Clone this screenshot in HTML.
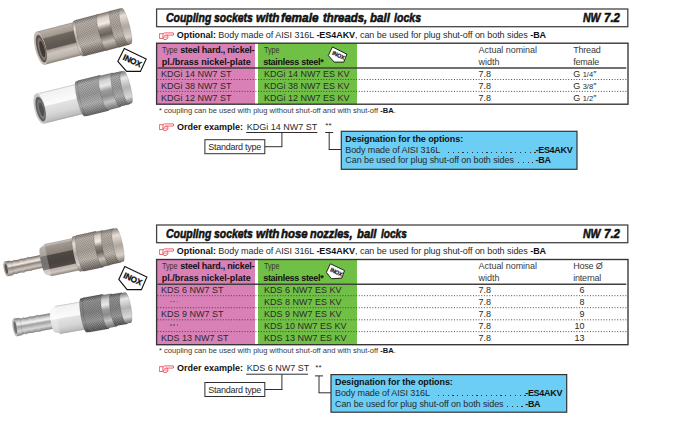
<!DOCTYPE html>
<html><head><meta charset="utf-8"><style>
html,body{margin:0;padding:0;background:#fff;}
body{width:677px;height:434px;position:relative;overflow:hidden;font-family:"Liberation Sans",sans-serif;color:#2a2a2a;}
.a{position:absolute;}
.t{position:absolute;white-space:nowrap;}
.t b{color:#111;}
</style></head><body>
<svg class="a" style="left:0;top:0" width="677" height="434" viewBox="0 0 677 434"><defs><pattern id="knurl" width="1.7" height="1.7" patternUnits="userSpaceOnUse" patternTransform="rotate(45)">
<rect x="0" y="0" width="0.8" height="0.8" fill="#000" opacity="0.2"/><rect x="0.85" y="0.85" width="0.8" height="0.8" fill="#fff" opacity="0.22"/></pattern>
<linearGradient id="hexA" x1="0" y1="0" x2="0" y2="1"><stop offset="0" stop-color="#9a928a"/><stop offset="0.04" stop-color="#b8b0a8"/><stop offset="0.22" stop-color="#a0988f"/><stop offset="0.26" stop-color="#6e665f"/><stop offset="0.45" stop-color="#625b55"/><stop offset="0.58" stop-color="#5c5550"/><stop offset="0.62" stop-color="#a8a098"/><stop offset="0.72" stop-color="#cec6be"/><stop offset="0.9" stop-color="#bab2aa"/><stop offset="1" stop-color="#8a8279"/></linearGradient>
<linearGradient id="hexC" x1="0" y1="0" x2="0" y2="1"><stop offset="0" stop-color="#b0a8a0"/><stop offset="0.04" stop-color="#c4bcb4"/><stop offset="0.1" stop-color="#a09890"/><stop offset="0.34" stop-color="#8c847c"/><stop offset="0.37" stop-color="#4e4844"/><stop offset="0.6" stop-color="#48423e"/><stop offset="0.76" stop-color="#514a46"/><stop offset="0.79" stop-color="#b8b0a8"/><stop offset="0.9" stop-color="#cfc7bf"/><stop offset="1" stop-color="#8a827a"/></linearGradient>
<linearGradient id="knA" x1="0" y1="0" x2="0" y2="1"><stop offset="0" stop-color="#7a726b"/><stop offset="0.12" stop-color="#b0a8a0"/><stop offset="0.45" stop-color="#a09890"/><stop offset="0.7" stop-color="#b8b0a8"/><stop offset="0.85" stop-color="#8a827a"/><stop offset="1" stop-color="#625a54"/></linearGradient>
<linearGradient id="ringA" x1="0" y1="0" x2="0" y2="1"><stop offset="0" stop-color="#7a726b"/><stop offset="0.12" stop-color="#d8d0c8"/><stop offset="0.28" stop-color="#f4ece4"/><stop offset="0.42" stop-color="#8a827b"/><stop offset="0.58" stop-color="#6a625c"/><stop offset="0.78" stop-color="#c8c0b8"/><stop offset="1" stop-color="#6a625c"/></linearGradient>
<linearGradient id="lipA" x1="0" y1="0" x2="0" y2="1"><stop offset="0" stop-color="#8a827b"/><stop offset="0.2" stop-color="#e8e0d8"/><stop offset="0.5" stop-color="#b0a8a0"/><stop offset="0.8" stop-color="#d8d0c8"/><stop offset="1" stop-color="#7a726b"/></linearGradient>
<linearGradient id="tubeA" x1="0" y1="0" x2="0" y2="1"><stop offset="0" stop-color="#6a625c"/><stop offset="0.2" stop-color="#c8c0b8"/><stop offset="0.35" stop-color="#f4ece4"/><stop offset="0.5" stop-color="#8a827b"/><stop offset="0.75" stop-color="#d0c8c0"/><stop offset="1" stop-color="#7a726b"/></linearGradient>
<linearGradient id="hexB" x1="0" y1="0" x2="0" y2="1"><stop offset="0" stop-color="#bdbdbd"/><stop offset="0.05" stop-color="#f2f2f2"/><stop offset="0.44" stop-color="#fbfbfb"/><stop offset="0.48" stop-color="#e2e2e2"/><stop offset="0.75" stop-color="#d6d6d6"/><stop offset="0.95" stop-color="#bdbdbd"/><stop offset="1" stop-color="#a0a0a0"/></linearGradient>
<linearGradient id="knB" x1="0" y1="0" x2="0" y2="1"><stop offset="0" stop-color="#6a6a6a"/><stop offset="0.12" stop-color="#a4a4a4"/><stop offset="0.45" stop-color="#929292"/><stop offset="0.7" stop-color="#aaaaaa"/><stop offset="0.85" stop-color="#888888"/><stop offset="1" stop-color="#5e5e5e"/></linearGradient>
<linearGradient id="knD" x1="0" y1="0" x2="0" y2="1"><stop offset="0" stop-color="#505050"/><stop offset="0.12" stop-color="#8a8a8a"/><stop offset="0.45" stop-color="#7a7a7a"/><stop offset="0.7" stop-color="#929292"/><stop offset="0.85" stop-color="#707070"/><stop offset="1" stop-color="#4a4a4a"/></linearGradient>
<linearGradient id="ringB" x1="0" y1="0" x2="0" y2="1"><stop offset="0" stop-color="#7a7a7a"/><stop offset="0.15" stop-color="#d0d0d0"/><stop offset="0.3" stop-color="#e8e8e8"/><stop offset="0.45" stop-color="#9a9a9a"/><stop offset="0.6" stop-color="#8c8c8c"/><stop offset="0.78" stop-color="#c4c4c4"/><stop offset="1" stop-color="#707070"/></linearGradient>
<linearGradient id="lipB" x1="0" y1="0" x2="0" y2="1"><stop offset="0" stop-color="#7a7a7a"/><stop offset="0.2" stop-color="#e8e8e8"/><stop offset="0.5" stop-color="#b4b4b4"/><stop offset="0.8" stop-color="#d8d8d8"/><stop offset="1" stop-color="#707070"/></linearGradient>
<linearGradient id="tubeB" x1="0" y1="0" x2="0" y2="1"><stop offset="0" stop-color="#7a7a7a"/><stop offset="0.2" stop-color="#cfcfcf"/><stop offset="0.35" stop-color="#f4f4f4"/><stop offset="0.5" stop-color="#a0a0a0"/><stop offset="0.75" stop-color="#d8d8d8"/><stop offset="1" stop-color="#808080"/></linearGradient></defs>
<g transform="translate(40.6 48.3) rotate(-14.5)">
<path d="M0 -17 L40 -17 L40 17 L0 17 Z" fill="url(#hexA)"/>
<ellipse cx="0" cy="0" rx="5.5" ry="17" fill="#c4bcb4"/>
<ellipse cx="0.6" cy="0.5" rx="4.4" ry="14.2" fill="#5c544e"/>
<ellipse cx="1" cy="1" rx="3.2" ry="11.5" fill="#7e766f"/>
<ellipse cx="1.4" cy="1" rx="2.2" ry="8.5" fill="#3e3834"/>
<path d="M39 -18.3 L42 -18.3 A3 18.3 0 0 1 42 18.3 L39 18.3 A3 18.3 0 0 1 39 -18.3 Z" fill="url(#lipA)" stroke="#000" stroke-opacity="0.18" stroke-width="0.6"/>
<path d="M41.5 -18.5 L64 -18.5 A3 18.5 0 0 1 64 18.5 L41.5 18.5 A3 18.5 0 0 1 41.5 -18.5 Z" fill="url(#knA)" stroke="#000" stroke-opacity="0.18" stroke-width="0.6"/><path d="M41.5 -18.5 L64 -18.5 A3 18.5 0 0 1 64 18.5 L41.5 18.5 A3 18.5 0 0 1 41.5 -18.5 Z" fill="url(#knurl)"/>
<path d="M63.5 -18.6 L77 -18.6 A3 18.6 0 0 1 77 18.6 L63.5 18.6 A3 18.6 0 0 1 63.5 -18.6 Z" fill="url(#ringA)" stroke="#000" stroke-opacity="0.18" stroke-width="0.6"/>
<path d="M76.5 -18.7 L87 -18.7 A3 18.7 0 0 1 87 18.7 L76.5 18.7 A3 18.7 0 0 1 76.5 -18.7 Z" fill="url(#knA)" stroke="#000" stroke-opacity="0.18" stroke-width="0.6"/><path d="M76.5 -18.7 L87 -18.7 A3 18.7 0 0 1 87 18.7 L76.5 18.7 A3 18.7 0 0 1 76.5 -18.7 Z" fill="url(#knurl)"/>
<path d="M86.5 -18.3 L88.8 -18.3 A3 18.3 0 0 1 88.8 18.3 L86.5 18.3 A3 18.3 0 0 1 86.5 -18.3 Z" fill="url(#lipA)" stroke="#000" stroke-opacity="0.18" stroke-width="0.6"/>
</g>
<g transform="translate(39.9 108.7) rotate(-13.8)">
<path d="M0 -15.5 L43 -15.5 L43 15.5 L0 15.5 Z" fill="url(#hexB)"/>
<ellipse cx="0" cy="0" rx="5.5" ry="15.5" fill="#c8c8c8"/>
<ellipse cx="0.6" cy="0.5" rx="4.4" ry="12.7" fill="#5e5e5e"/>
<ellipse cx="1" cy="1" rx="3.2" ry="10.0" fill="#7a7a7a"/>
<ellipse cx="1.4" cy="1" rx="2.2" ry="7.0" fill="#505050"/>
<path d="M41.5 -17.9 L44.5 -17.9 A3 17.9 0 0 1 44.5 17.9 L41.5 17.9 A3 17.9 0 0 1 41.5 -17.9 Z" fill="url(#knB)" stroke="#000" stroke-opacity="0.18" stroke-width="0.6"/>
<path d="M44 -18.2 L66 -18.2 A3 18.2 0 0 1 66 18.2 L44 18.2 A3 18.2 0 0 1 44 -18.2 Z" fill="url(#knB)" stroke="#000" stroke-opacity="0.18" stroke-width="0.6"/><path d="M44 -18.2 L66 -18.2 A3 18.2 0 0 1 66 18.2 L44 18.2 A3 18.2 0 0 1 44 -18.2 Z" fill="url(#knurl)"/>
<path d="M65.5 -17.6 L78.5 -17.6 A3 17.6 0 0 1 78.5 17.6 L65.5 17.6 A3 17.6 0 0 1 65.5 -17.6 Z" fill="url(#ringB)" stroke="#000" stroke-opacity="0.18" stroke-width="0.6"/>
<path d="M78 -17.0 L88 -17.0 A3 17.0 0 0 1 88 17.0 L78 17.0 A3 17.0 0 0 1 78 -17.0 Z" fill="url(#knB)" stroke="#000" stroke-opacity="0.18" stroke-width="0.6"/><path d="M78 -17.0 L88 -17.0 A3 17.0 0 0 1 88 17.0 L78 17.0 A3 17.0 0 0 1 78 -17.0 Z" fill="url(#knurl)"/>
<path d="M87.5 -16.5 L90.3 -16.5 A3 16.5 0 0 1 90.3 16.5 L87.5 16.5 A3 16.5 0 0 1 87.5 -16.5 Z" fill="url(#lipB)" stroke="#000" stroke-opacity="0.18" stroke-width="0.6"/>
</g>
<g transform="translate(43.9 261) rotate(-12.0)">
<path d="M-38.7 -6.6 L3 -6.6 L3 6.6 L-38.7 6.6 A2 6.6 0 0 1 -38.7 -6.6 Z" fill="url(#tubeA)"/>
<path d="M-30.700000000000003 -6.6 l2.5 -0.7 l0 14.6 l-2.5 -0.7 Z" fill="url(#tubeA)"/>
<path d="M-23.700000000000003 -6.6 l2.5 -0.7 l0 14.6 l-2.5 -0.7 Z" fill="url(#tubeA)"/>
<path d="M-16.700000000000003 -6.6 l2.5 -0.7 l0 14.6 l-2.5 -0.7 Z" fill="url(#tubeA)"/>
<path d="M-38.7 -7.3999999999999995 L-33.7 -7.3999999999999995 L-32.2 -6.6 L-32.2 6.6 L-33.7 7.3999999999999995 L-38.7 7.3999999999999995 Z" fill="url(#tubeA)" stroke="#000" stroke-opacity="0.15" stroke-width="0.5"/>
<ellipse cx="-38.7" cy="0" rx="2.2" ry="7.3999999999999995" fill="#b0a8a0"/>
<ellipse cx="-38.400000000000006" cy="0" rx="1.3" ry="5.0" fill="#5a524c"/>
<path d="M-1 -13.5 L5 -16.5 L5 16.5 L-1 13.5 A2 13.5 0 0 1 -1 -13.5 Z" fill="url(#hexC)"/>
<path d="M-1 -13.5 L5 -16.5 L5 16.5 L-1 13.5 A2 13.5 0 0 1 -1 -13.5 Z" fill="#fff" opacity="0.25"/>
<path d="M4 -16.5 L34.5 -16.5 L34.5 16.5 L4 16.5 Z" fill="url(#hexC)"/>
<path d="M33.5 -17.8 L37.5 -17.8 A3 17.8 0 0 1 37.5 17.8 L33.5 17.8 A3 17.8 0 0 1 33.5 -17.8 Z" fill="url(#lipA)" stroke="#000" stroke-opacity="0.18" stroke-width="0.6"/>
<path d="M37.0 -18.3 L56.5 -18.3 A3 18.3 0 0 1 56.5 18.3 L37.0 18.3 A3 18.3 0 0 1 37.0 -18.3 Z" fill="url(#knA)" stroke="#000" stroke-opacity="0.18" stroke-width="0.6"/><path d="M37.0 -18.3 L56.5 -18.3 A3 18.3 0 0 1 56.5 18.3 L37.0 18.3 A3 18.3 0 0 1 37.0 -18.3 Z" fill="url(#knurl)"/>
<path d="M56.0 -17.8 L63.5 -17.8 A3 17.8 0 0 1 63.5 17.8 L56.0 17.8 A3 17.8 0 0 1 56.0 -17.8 Z" fill="url(#ringA)" stroke="#000" stroke-opacity="0.18" stroke-width="0.6"/>
<path d="M63.0 -17.4 L74.5 -17.4 A3 17.4 0 0 1 74.5 17.4 L63.0 17.4 A3 17.4 0 0 1 63.0 -17.4 Z" fill="url(#knA)" stroke="#000" stroke-opacity="0.18" stroke-width="0.6"/><path d="M63.0 -17.4 L74.5 -17.4 A3 17.4 0 0 1 74.5 17.4 L63.0 17.4 A3 17.4 0 0 1 63.0 -17.4 Z" fill="url(#knurl)"/>
<path d="M74.0 -17.0 L77.5 -17.0 A3 17.0 0 0 1 77.5 17.0 L74.0 17.0 A3 17.0 0 0 1 74.0 -17.0 Z" fill="url(#lipA)" stroke="#000" stroke-opacity="0.18" stroke-width="0.6"/>
</g>
<g transform="translate(53.7 320.7) rotate(-10.0)">
<path d="M-39.3 -8 L3 -8 L3 8 L-39.3 8 A2 8 0 0 1 -39.3 -8 Z" fill="url(#tubeB)"/>
<path d="M-31.299999999999997 -8 l2.5 -0.7 l0 17.4 l-2.5 -0.7 Z" fill="url(#tubeB)"/>
<path d="M-24.299999999999997 -8 l2.5 -0.7 l0 17.4 l-2.5 -0.7 Z" fill="url(#tubeB)"/>
<path d="M-17.299999999999997 -8 l2.5 -0.7 l0 17.4 l-2.5 -0.7 Z" fill="url(#tubeB)"/>
<path d="M-39.3 -8.8 L-34.3 -8.8 L-32.8 -8 L-32.8 8 L-34.3 8.8 L-39.3 8.8 Z" fill="url(#tubeB)" stroke="#000" stroke-opacity="0.15" stroke-width="0.5"/>
<ellipse cx="-39.3" cy="0" rx="2.2" ry="8.8" fill="#b8b8b8"/>
<ellipse cx="-39.0" cy="0" rx="1.3" ry="6.4" fill="#6a6a6a"/>
<path d="M-1 -11.2 L5 -14.2 L5 14.2 L-1 11.2 A2 11.2 0 0 1 -1 -11.2 Z" fill="url(#hexB)"/>
<path d="M-1 -11.2 L5 -14.2 L5 14.2 L-1 11.2 A2 11.2 0 0 1 -1 -11.2 Z" fill="#fff" opacity="0.25"/>
<path d="M4 -14.2 L31.5 -14.2 L31.5 14.2 L4 14.2 Z" fill="url(#hexB)"/>
<path d="M30.5 -17.2 L34.0 -17.2 A3 17.2 0 0 1 34.0 17.2 L30.5 17.2 A3 17.2 0 0 1 30.5 -17.2 Z" fill="url(#knD)" stroke="#000" stroke-opacity="0.18" stroke-width="0.6"/>
<path d="M33.5 -17.5 L52.5 -17.5 A3 17.5 0 0 1 52.5 17.5 L33.5 17.5 A3 17.5 0 0 1 33.5 -17.5 Z" fill="url(#knD)" stroke="#000" stroke-opacity="0.18" stroke-width="0.6"/><path d="M33.5 -17.5 L52.5 -17.5 A3 17.5 0 0 1 52.5 17.5 L33.5 17.5 A3 17.5 0 0 1 33.5 -17.5 Z" fill="url(#knurl)"/>
<path d="M52.0 -16.599999999999998 L61.0 -16.599999999999998 A3 16.599999999999998 0 0 1 61.0 16.599999999999998 L52.0 16.599999999999998 A3 16.599999999999998 0 0 1 52.0 -16.599999999999998 Z" fill="url(#ringB)" stroke="#000" stroke-opacity="0.18" stroke-width="0.6"/>
<path d="M60.5 -15.899999999999999 L71.5 -15.899999999999999 A3 15.899999999999999 0 0 1 71.5 15.899999999999999 L60.5 15.899999999999999 A3 15.899999999999999 0 0 1 60.5 -15.899999999999999 Z" fill="url(#knD)" stroke="#000" stroke-opacity="0.18" stroke-width="0.6"/><path d="M60.5 -15.899999999999999 L71.5 -15.899999999999999 A3 15.899999999999999 0 0 1 71.5 15.899999999999999 L60.5 15.899999999999999 A3 15.899999999999999 0 0 1 60.5 -15.899999999999999 Z" fill="url(#knurl)"/>
<path d="M71.0 -15.399999999999999 L75.5 -15.399999999999999 A3 15.399999999999999 0 0 1 75.5 15.399999999999999 L71.0 15.399999999999999 A3 15.399999999999999 0 0 1 71.0 -15.399999999999999 Z" fill="url(#lipB)" stroke="#000" stroke-opacity="0.18" stroke-width="0.6"/>
</g>
</svg>
<div class="a" style="left:157px;top:43.2px;width:98px;height:61.0px;background:#D980B7"></div>
<div class="a" style="left:258.2px;top:43.2px;width:98.8px;height:61.0px;background:#71C046"></div>
<div class="a" style="left:157px;top:259.5px;width:98px;height:85.19999999999999px;background:#D980B7"></div>
<div class="a" style="left:258.2px;top:259.5px;width:98.8px;height:85.19999999999999px;background:#71C046"></div>
<svg class="a" style="left:0;top:0" width="677" height="434" viewBox="0 0 677 434"><rect x="156.6" y="9.0" width="471.19999999999993" height="17.7" fill="none" stroke="#444" stroke-width="1.3"/>
<line x1="157.5" y1="79.5" x2="627.5" y2="79.5" stroke="#3a3a3a" stroke-width="1" stroke-dasharray="1 1.7200000000000002" opacity="0.9"/>
<line x1="157.5" y1="91.4" x2="627.5" y2="91.4" stroke="#3a3a3a" stroke-width="1" stroke-dasharray="1 1.7200000000000002" opacity="0.9"/>
<line x1="157.5" y1="67.9" x2="626.2" y2="67.9" stroke="#404040" stroke-width="1.5"/>
<rect x="156.6" y="43.2" width="471.4" height="61.0" fill="none" stroke="#333" stroke-width="1.35"/>
<line x1="246.2" y1="132.5" x2="317.4" y2="132.5" stroke="#2e2e2e" stroke-width="1.0"/>
<line x1="281.9" y1="132.5" x2="281.9" y2="146.7" stroke="#2e2e2e" stroke-width="1.0"/>
<line x1="265" y1="146.7" x2="282.4" y2="146.7" stroke="#2e2e2e" stroke-width="1.0"/>
<rect x="204.9" y="139.7" width="59.900000000000006" height="14.0" fill="#fff" stroke="#2e2e2e" stroke-width="1.0"/>
<line x1="325.2" y1="132.5" x2="333.2" y2="132.5" stroke="#2e2e2e" stroke-width="1.0"/>
<line x1="329.2" y1="132.5" x2="329.2" y2="149.5" stroke="#2e2e2e" stroke-width="1.0"/>
<line x1="328.7" y1="149.5" x2="341.3" y2="149.5" stroke="#2e2e2e" stroke-width="1.0"/>
<rect x="341.3" y="131.3" width="235.7" height="38.0" fill="#6DCEF5" stroke="#333" stroke-width="1.2"/>
<rect x="156.6" y="225.0" width="471.19999999999993" height="17.69999999999999" fill="none" stroke="#444" stroke-width="1.3"/>
<line x1="157.5" y1="295.7" x2="627.5" y2="295.7" stroke="#3a3a3a" stroke-width="1" stroke-dasharray="1 1.7200000000000002" opacity="0.9"/>
<line x1="157.5" y1="307.7" x2="627.5" y2="307.7" stroke="#3a3a3a" stroke-width="1" stroke-dasharray="1 1.7200000000000002" opacity="0.9"/>
<line x1="157.5" y1="319.8" x2="627.5" y2="319.8" stroke="#3a3a3a" stroke-width="1" stroke-dasharray="1 1.7200000000000002" opacity="0.9"/>
<line x1="157.5" y1="331.6" x2="627.5" y2="331.6" stroke="#3a3a3a" stroke-width="1" stroke-dasharray="1 1.7200000000000002" opacity="0.9"/>
<line x1="157.5" y1="284.2" x2="626.2" y2="284.2" stroke="#404040" stroke-width="1.5"/>
<rect x="156.6" y="259.5" width="471.4" height="85.19999999999999" fill="none" stroke="#333" stroke-width="1.35"/>
<line x1="246.2" y1="374.2" x2="308" y2="374.2" stroke="#2e2e2e" stroke-width="1.0"/>
<line x1="281.9" y1="374.2" x2="281.9" y2="389.5" stroke="#2e2e2e" stroke-width="1.0"/>
<line x1="265" y1="389.5" x2="282.4" y2="389.5" stroke="#2e2e2e" stroke-width="1.0"/>
<rect x="204.9" y="382.5" width="59.900000000000006" height="14.0" fill="#fff" stroke="#2e2e2e" stroke-width="1.0"/>
<line x1="315.0" y1="375.9" x2="323.0" y2="375.9" stroke="#2e2e2e" stroke-width="1.0"/>
<line x1="319.0" y1="375.9" x2="319.0" y2="392.8" stroke="#2e2e2e" stroke-width="1.0"/>
<line x1="318.5" y1="392.8" x2="331" y2="392.8" stroke="#2e2e2e" stroke-width="1.0"/>
<rect x="331" y="374.6" width="235.70000000000005" height="37.599999999999966" fill="#6DCEF5" stroke="#333" stroke-width="1.2"/></svg>
<div class="t" style="left:165.7px;top:11px;font-size:13.5px;line-height:13.5px;font-weight:bold;font-style:italic;transform:scaleX(0.7746);transform-origin:0 0;color:#111;-webkit-text-stroke:0.6px #111;">Coupling</div>
<div class="t" style="left:214.4px;top:11px;font-size:13.5px;line-height:13.5px;font-weight:bold;font-style:italic;transform:scaleX(0.7720);transform-origin:0 0;color:#111;-webkit-text-stroke:0.6px #111;">sockets</div>
<div class="t" style="left:255.9px;top:11px;font-size:13.5px;line-height:13.5px;font-weight:bold;font-style:italic;transform:scaleX(0.8704);transform-origin:0 0;color:#111;-webkit-text-stroke:0.6px #111;">with</div>
<div class="t" style="left:281.3px;top:11px;font-size:13.5px;line-height:13.5px;font-weight:bold;font-style:italic;transform:scaleX(0.8767);transform-origin:0 0;color:#111;-webkit-text-stroke:0.6px #111;">female</div>
<div class="t" style="left:322.7px;top:11px;font-size:13.5px;line-height:13.5px;font-weight:bold;font-style:italic;transform:scaleX(0.8404);transform-origin:0 0;color:#111;-webkit-text-stroke:0.6px #111;">threads,</div>
<div class="t" style="left:370px;top:11px;font-size:13.5px;line-height:13.5px;font-weight:bold;font-style:italic;transform:scaleX(0.8542);transform-origin:0 0;color:#111;-webkit-text-stroke:0.6px #111;">ball</div>
<div class="t" style="left:393.7px;top:11px;font-size:13.5px;line-height:13.5px;font-weight:bold;font-style:italic;transform:scaleX(0.7824);transform-origin:0 0;color:#111;-webkit-text-stroke:0.6px #111;">locks</div>
<div class="t" style="left:583.1px;top:11px;font-size:13.5px;line-height:13.5px;font-weight:bold;font-style:italic;transform:scaleX(0.7792);transform-origin:0 0;color:#111;-webkit-text-stroke:0.6px #111;">NW</div>
<div class="t" style="left:603.9000000000001px;top:11px;font-size:13.5px;line-height:13.5px;font-weight:bold;font-style:italic;transform:scaleX(0.8500);transform-origin:0 0;color:#111;-webkit-text-stroke:0.6px #111;">7.2</div>
<svg class="a" style="left:158.5px;top:31.7px" width="16.3" height="10" viewBox="0 0 17 10" preserveAspectRatio="none">
<g fill="none" stroke="#EE5560" stroke-width="0.95" stroke-linejoin="round" stroke-linecap="round">
<path d="M0.8 1.7 L4.3 1.7 L3.9 6.5 L0.8 6.5 Z"/>
<path d="M4.3 1.7 Q4.7 0.9 5.8 0.9 L14.8 0.9 Q15.9 2 14.8 3.1 L7.6 3.1"/>
<path d="M7.6 3.1 Q5.9 3.2 5.3 4.3 L4.5 6.9 Q5 7.7 6.3 7.6 Q8.9 7.4 9.3 5.7 Q9.6 4.1 8.5 3.2"/>
<path d="M6.2 5.2 L8.8 5.2" stroke-width="0.7"/>
</g></svg>
<div class="t" style="left:176.8px;top:31px;font-size:9px;line-height:9px;letter-spacing:-0.05px;"><b>Optional:</b> Body made of AISI 316L <b>-ES4AKV</b>, can be used for plug shut-off on both sides <b>-BA</b></div>
<div class="t" style="left:162px;top:46px;font-size:9px;line-height:9px;"><span style="display:inline-block;transform:scaleX(0.8);transform-origin:0 0;margin-right:-3.9px;color:#333">Type</span> <b style="letter-spacing:-0.22px">steel hard., nickel-</b></div>
<div class="t" style="left:161.7px;top:58px;font-size:9px;line-height:9px;"><b>pl./brass nickel-plate</b></div>
<div class="t" style="left:264px;top:46px;font-size:9px;line-height:9px;"><span style="display:inline-block;transform:scaleX(0.8);transform-origin:0 0;color:#333">Type</span></div>
<div class="t" style="left:263.2px;top:58px;font-size:9px;line-height:9px;"><b style="letter-spacing:-0.3px">stainless steel*</b></div>
<div class="t" style="left:478.6px;top:46px;font-size:9px;line-height:9px;color:#3a3a3a;letter-spacing:-0.05px">Actual nominal</div>
<div class="t" style="left:478.6px;top:58px;font-size:9px;line-height:9px;color:#3a3a3a">width</div>
<div class="t" style="left:573.2px;top:46px;font-size:9px;line-height:9px;color:#3a3a3a;letter-spacing:-0.2px">Thread</div>
<div class="t" style="left:573.2px;top:58px;font-size:9px;line-height:9px;color:#3a3a3a;letter-spacing:-0.2px">female</div>
<div class="t" style="left:161px;top:70px;font-size:9px;line-height:9px;">KDGi 14 NW7 ST</div>
<div class="t" style="left:264px;top:70px;font-size:9px;line-height:9px;">KDGi 14 NW7 ES KV</div>
<div class="t" style="left:478.6px;top:70px;font-size:9px;line-height:9px;">7.8</div>
<div class="t" style="left:573.2px;top:70px;font-size:9px;line-height:9px;">G <span style="font-size:7.5px">1/4</span>&#8243;</div>
<div class="t" style="left:161px;top:82px;font-size:9px;line-height:9px;">KDGi 38 NW7 ST</div>
<div class="t" style="left:264px;top:82px;font-size:9px;line-height:9px;">KDGi 38 NW7 ES KV</div>
<div class="t" style="left:478.6px;top:82px;font-size:9px;line-height:9px;">7.8</div>
<div class="t" style="left:573.2px;top:82px;font-size:9px;line-height:9px;">G <span style="font-size:7.5px">3/8</span>&#8243;</div>
<div class="t" style="left:161px;top:94px;font-size:9px;line-height:9px;">KDGi 12 NW7 ST</div>
<div class="t" style="left:264px;top:94px;font-size:9px;line-height:9px;">KDGi 12 NW7 ES KV</div>
<div class="t" style="left:478.6px;top:94px;font-size:9px;line-height:9px;">7.8</div>
<div class="t" style="left:573.2px;top:94px;font-size:9px;line-height:9px;">G <span style="font-size:7.5px">1/2</span>&#8243;</div>
<div class="t" style="left:158.8px;top:107px;font-size:8px;line-height:8px;transform:scaleX(0.945);transform-origin:0 0;color:#3a3a3a">* coupling can be used with plug without shut-off and with shut-off <b>-BA</b>.</div>
<svg class="a" style="left:158.5px;top:123.3px" width="16.3" height="10" viewBox="0 0 17 10" preserveAspectRatio="none">
<g fill="none" stroke="#EE5560" stroke-width="0.95" stroke-linejoin="round" stroke-linecap="round">
<path d="M0.8 1.7 L4.3 1.7 L3.9 6.5 L0.8 6.5 Z"/>
<path d="M4.3 1.7 Q4.7 0.9 5.8 0.9 L14.8 0.9 Q15.9 2 14.8 3.1 L7.6 3.1"/>
<path d="M7.6 3.1 Q5.9 3.2 5.3 4.3 L4.5 6.9 Q5 7.7 6.3 7.6 Q8.9 7.4 9.3 5.7 Q9.6 4.1 8.5 3.2"/>
<path d="M6.2 5.2 L8.8 5.2" stroke-width="0.7"/>
</g></svg>
<div class="t" style="left:176.9px;top:123px;font-size:9px;line-height:9px;"><b>Order example:</b></div>
<div class="t" style="left:246.8px;top:123px;font-size:9px;line-height:9px;">KDGi 14 NW7 ST</div>
<div class="t" style="left:208.3px;top:143px;font-size:9px;line-height:9px;letter-spacing:-0.25px;">Standard type</div>
<div class="t" style="left:325.3px;top:122px;font-size:8px;line-height:8px;letter-spacing:0.2px;position:absolute">**</div>
<div class="t" style="left:345.3px;top:135px;font-size:9px;line-height:9px;letter-spacing:-0.08px"><b>Designation for the options:</b></div>
<div class="t" style="left:345.3px;top:146px;font-size:9px;line-height:9px;letter-spacing:-0.1px">Body made of AISI 316L</div>
<div class="a" style="left:448.3px;top:151.60000000000002px;width:87.8px;height:1.2px;background:repeating-linear-gradient(90deg,#333 0 1.2px,transparent 1.2px 4.8px)"></div>
<div class="t" style="left:535.5px;top:146px;font-size:9px;line-height:9px;letter-spacing:-0.3px"><b>-ES4AKV</b></div>
<div class="t" style="left:345.3px;top:156px;font-size:9px;line-height:9px;letter-spacing:-0.08px">Can be used for plug shut-off on both sides</div>
<div class="a" style="left:517.5px;top:162.20000000000002px;width:15.799999999999999px;height:1.2px;background:repeating-linear-gradient(90deg,#333 0 1.2px,transparent 1.2px 4.8px)"></div>
<div class="t" style="left:535.5px;top:156px;font-size:9px;line-height:9px;letter-spacing:-0.3px"><b>-BA</b></div>
<div class="t" style="left:165.7px;top:227px;font-size:13.5px;line-height:13.5px;font-weight:bold;font-style:italic;transform:scaleX(0.7746);transform-origin:0 0;color:#111;-webkit-text-stroke:0.6px #111;">Coupling</div>
<div class="t" style="left:214.4px;top:227px;font-size:13.5px;line-height:13.5px;font-weight:bold;font-style:italic;transform:scaleX(0.7720);transform-origin:0 0;color:#111;-webkit-text-stroke:0.6px #111;">sockets</div>
<div class="t" style="left:255.9px;top:227px;font-size:13.5px;line-height:13.5px;font-weight:bold;font-style:italic;transform:scaleX(0.8704);transform-origin:0 0;color:#111;-webkit-text-stroke:0.6px #111;">with</div>
<div class="t" style="left:281.3px;top:227px;font-size:13.5px;line-height:13.5px;font-weight:bold;font-style:italic;transform:scaleX(0.8484);transform-origin:0 0;color:#111;-webkit-text-stroke:0.6px #111;">hose</div>
<div class="t" style="left:310px;top:227px;font-size:13.5px;line-height:13.5px;font-weight:bold;font-style:italic;transform:scaleX(0.8077);transform-origin:0 0;color:#111;-webkit-text-stroke:0.6px #111;">nozzles,</div>
<div class="t" style="left:356.6px;top:227px;font-size:13.5px;line-height:13.5px;font-weight:bold;font-style:italic;transform:scaleX(0.8375);transform-origin:0 0;color:#111;-webkit-text-stroke:0.6px #111;">ball</div>
<div class="t" style="left:380.8px;top:227px;font-size:13.5px;line-height:13.5px;font-weight:bold;font-style:italic;transform:scaleX(0.7471);transform-origin:0 0;color:#111;-webkit-text-stroke:0.6px #111;">locks</div>
<div class="t" style="left:583.1px;top:227px;font-size:13.5px;line-height:13.5px;font-weight:bold;font-style:italic;transform:scaleX(0.7792);transform-origin:0 0;color:#111;-webkit-text-stroke:0.6px #111;">NW</div>
<div class="t" style="left:603.9000000000001px;top:227px;font-size:13.5px;line-height:13.5px;font-weight:bold;font-style:italic;transform:scaleX(0.8500);transform-origin:0 0;color:#111;-webkit-text-stroke:0.6px #111;">7.2</div>
<svg class="a" style="left:158.5px;top:247.89999999999998px" width="16.3" height="10" viewBox="0 0 17 10" preserveAspectRatio="none">
<g fill="none" stroke="#EE5560" stroke-width="0.95" stroke-linejoin="round" stroke-linecap="round">
<path d="M0.8 1.7 L4.3 1.7 L3.9 6.5 L0.8 6.5 Z"/>
<path d="M4.3 1.7 Q4.7 0.9 5.8 0.9 L14.8 0.9 Q15.9 2 14.8 3.1 L7.6 3.1"/>
<path d="M7.6 3.1 Q5.9 3.2 5.3 4.3 L4.5 6.9 Q5 7.7 6.3 7.6 Q8.9 7.4 9.3 5.7 Q9.6 4.1 8.5 3.2"/>
<path d="M6.2 5.2 L8.8 5.2" stroke-width="0.7"/>
</g></svg>
<div class="t" style="left:176.8px;top:247px;font-size:9px;line-height:9px;letter-spacing:-0.05px;"><b>Optional:</b> Body made of AISI 316L <b>-ES4AKV</b>, can be used for plug shut-off on both sides <b>-BA</b></div>
<div class="t" style="left:162px;top:262px;font-size:9px;line-height:9px;"><span style="display:inline-block;transform:scaleX(0.8);transform-origin:0 0;margin-right:-3.9px;color:#333">Type</span> <b style="letter-spacing:-0.22px">steel hard., nickel-</b></div>
<div class="t" style="left:161.7px;top:274px;font-size:9px;line-height:9px;"><b>pl./brass nickel-plate</b></div>
<div class="t" style="left:264px;top:262px;font-size:9px;line-height:9px;"><span style="display:inline-block;transform:scaleX(0.8);transform-origin:0 0;color:#333">Type</span></div>
<div class="t" style="left:263.2px;top:274px;font-size:9px;line-height:9px;"><b style="letter-spacing:-0.3px">stainless steel*</b></div>
<div class="t" style="left:478.6px;top:262px;font-size:9px;line-height:9px;color:#3a3a3a;letter-spacing:-0.05px">Actual nominal</div>
<div class="t" style="left:478.6px;top:274px;font-size:9px;line-height:9px;color:#3a3a3a">width</div>
<div class="t" style="left:573.2px;top:262px;font-size:9px;line-height:9px;color:#3a3a3a;letter-spacing:-0.2px">Hose Ø</div>
<div class="t" style="left:573.2px;top:274px;font-size:9px;line-height:9px;color:#3a3a3a;letter-spacing:-0.2px">internal</div>
<div class="t" style="left:161px;top:286px;font-size:9px;line-height:9px;">KDS 6 NW7 ST</div>
<div class="t" style="left:264px;top:286px;font-size:9px;line-height:9px;">KDS 6 NW7 ES KV</div>
<div class="t" style="left:478.6px;top:286px;font-size:9px;line-height:9px;">7.8</div>
<div class="t" style="right:92.5px;top:286px;font-size:9px;line-height:9px;text-align:right;">6</div>
<div class="a" style="left:169.8px;top:300.54999999999995px;width:9.8px;height:1.4px;background:repeating-linear-gradient(90deg,#86648c 0 1.6px,transparent 1.6px 3.3px)"></div>
<div class="t" style="left:264px;top:298px;font-size:9px;line-height:9px;">KDS 8 NW7 ES KV</div>
<div class="t" style="left:478.6px;top:298px;font-size:9px;line-height:9px;">7.8</div>
<div class="t" style="right:92.5px;top:298px;font-size:9px;line-height:9px;text-align:right;">8</div>
<div class="t" style="left:161px;top:310px;font-size:9px;line-height:9px;">KDS 9 NW7 ST</div>
<div class="t" style="left:264px;top:310px;font-size:9px;line-height:9px;">KDS 9 NW7 ES KV</div>
<div class="t" style="left:478.6px;top:310px;font-size:9px;line-height:9px;">7.8</div>
<div class="t" style="right:92.5px;top:310px;font-size:9px;line-height:9px;text-align:right;">9</div>
<div class="a" style="left:169.8px;top:324.44999999999993px;width:9.8px;height:1.4px;background:repeating-linear-gradient(90deg,#86648c 0 1.6px,transparent 1.6px 3.3px)"></div>
<div class="t" style="left:264px;top:322px;font-size:9px;line-height:9px;">KDS 10 NW7 ES KV</div>
<div class="t" style="left:478.6px;top:322px;font-size:9px;line-height:9px;">7.8</div>
<div class="t" style="right:92.5px;top:322px;font-size:9px;line-height:9px;text-align:right;">10</div>
<div class="t" style="left:161px;top:334px;font-size:9px;line-height:9px;">KDS 13 NW7 ST</div>
<div class="t" style="left:264px;top:334px;font-size:9px;line-height:9px;">KDS 13 NW7 ES KV</div>
<div class="t" style="left:478.6px;top:334px;font-size:9px;line-height:9px;">7.8</div>
<div class="t" style="right:92.5px;top:334px;font-size:9px;line-height:9px;text-align:right;">13</div>
<div class="t" style="left:158.8px;top:347px;font-size:8px;line-height:8px;transform:scaleX(0.945);transform-origin:0 0;color:#3a3a3a">* coupling can be used with plug without shut-off and with shut-off <b>-BA</b>.</div>
<svg class="a" style="left:158.5px;top:365.0px" width="16.3" height="10" viewBox="0 0 17 10" preserveAspectRatio="none">
<g fill="none" stroke="#EE5560" stroke-width="0.95" stroke-linejoin="round" stroke-linecap="round">
<path d="M0.8 1.7 L4.3 1.7 L3.9 6.5 L0.8 6.5 Z"/>
<path d="M4.3 1.7 Q4.7 0.9 5.8 0.9 L14.8 0.9 Q15.9 2 14.8 3.1 L7.6 3.1"/>
<path d="M7.6 3.1 Q5.9 3.2 5.3 4.3 L4.5 6.9 Q5 7.7 6.3 7.6 Q8.9 7.4 9.3 5.7 Q9.6 4.1 8.5 3.2"/>
<path d="M6.2 5.2 L8.8 5.2" stroke-width="0.7"/>
</g></svg>
<div class="t" style="left:176.9px;top:364px;font-size:9px;line-height:9px;"><b>Order example:</b></div>
<div class="t" style="left:246.8px;top:364px;font-size:9px;line-height:9px;">KDS 6 NW7 ST</div>
<div class="t" style="left:208.3px;top:386px;font-size:9px;line-height:9px;letter-spacing:-0.25px;">Standard type</div>
<div class="t" style="left:315.2px;top:364px;font-size:8px;line-height:8px;letter-spacing:0.2px;position:absolute">**</div>
<div class="t" style="left:335.0px;top:378px;font-size:9px;line-height:9px;letter-spacing:-0.08px"><b>Designation for the options:</b></div>
<div class="t" style="left:335.0px;top:389px;font-size:9px;line-height:9px;letter-spacing:-0.1px">Body made of AISI 316L</div>
<div class="a" style="left:438.0px;top:394.90000000000003px;width:87.8px;height:1.2px;background:repeating-linear-gradient(90deg,#333 0 1.2px,transparent 1.2px 4.8px)"></div>
<div class="t" style="left:525.2px;top:389px;font-size:9px;line-height:9px;letter-spacing:-0.3px"><b>-ES4AKV</b></div>
<div class="t" style="left:335.0px;top:400px;font-size:9px;line-height:9px;letter-spacing:-0.08px">Can be used for plug shut-off on both sides</div>
<div class="a" style="left:507.2px;top:405.50000000000006px;width:15.799999999999999px;height:1.2px;background:repeating-linear-gradient(90deg,#333 0 1.2px,transparent 1.2px 4.8px)"></div>
<div class="t" style="left:525.2px;top:400px;font-size:9px;line-height:9px;letter-spacing:-0.3px"><b>-BA</b></div>
<svg class="a" style="left:0;top:0" width="677" height="434" viewBox="0 0 677 434">
<polygon points="124.3,48.5 146.2,58.9 140.4,71.4 126.6,71.4 117.8,61.4" fill="#fff" stroke="#111" stroke-width="1.1" stroke-linejoin="miter"/>
<text x="131.0" y="63.4" transform="rotate(25 131.0 63.4)" font-family="Liberation Sans" font-weight="bold" font-size="8.2" letter-spacing="-0.2" fill="#111" stroke="#111" stroke-width="0.29" text-anchor="middle">INOX</text>
<polygon points="124.8,266.5 146.9,276.9 141.4,289.6 127.1,289.6 118.8,279.4" fill="#fff" stroke="#111" stroke-width="1.1" stroke-linejoin="miter"/>
<text x="131.5" y="281.5" transform="rotate(25 131.5 281.5)" font-family="Liberation Sans" font-weight="bold" font-size="8.2" letter-spacing="-0.2" fill="#111" stroke="#111" stroke-width="0.29" text-anchor="middle">INOX</text>
<polygon points="332.4,46.9 346.9,54.2 343.8,62.1 334.2,62.1 328.3,55.5" fill="#fff" stroke="#111" stroke-width="0.9" stroke-linejoin="miter"/>
<text x="337.6" y="57.0" transform="rotate(25 337.6 57.0)" font-family="Liberation Sans" font-weight="bold" font-size="5.6" letter-spacing="-0.2" fill="#111" stroke="#111" stroke-width="0.20" text-anchor="middle">INOX</text>
<polygon points="330.4,263.8 344.5,270.5 341.8,278.1 331.4,278.8 326.4,272.3" fill="#fff" stroke="#111" stroke-width="0.9" stroke-linejoin="miter"/>
<text x="335.5" y="273.8" transform="rotate(25 335.5 273.8)" font-family="Liberation Sans" font-weight="bold" font-size="5.6" letter-spacing="-0.2" fill="#111" stroke="#111" stroke-width="0.20" text-anchor="middle">INOX</text>
</svg>
</body></html>
